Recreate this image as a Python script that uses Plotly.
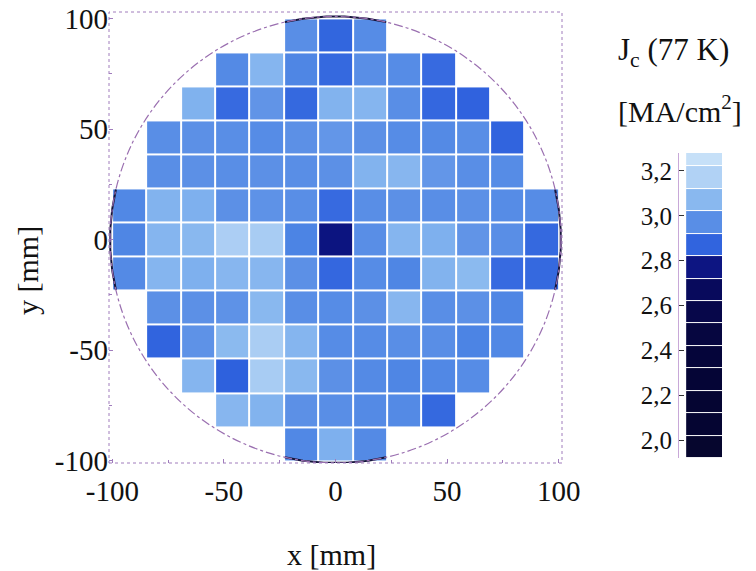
import numpy as np
import plotly.graph_objects as go

# ---------------- data ----------------
pitch = 15.4                      # cell size [mm]
x_centers = list(np.arange(-6, 7) * pitch)
y_centers = list(np.arange(-6, 7) * pitch)
N = None
# Jc(77 K) in MA/cm^2, rows listed from top (y=+6) to bottom (y=-6), columns x=-6..+6
jc_rows_top_to_bottom = [
    [N, N, N, N, N, 2.97, 2.88, 2.96, N, N, N, N, N],
    [N, N, N, 2.95, 3.05, 2.93, 2.90, 2.97, 2.96, 2.91, N, N, N],
    [N, N, 3.03, 2.91, 3.00, 2.90, 3.04, 3.05, 2.97, 2.89, 2.86, N, N],
    [N, 2.97, 2.98, 2.97, 2.96, 2.98, 3.01, 2.98, 2.96, 2.95, 2.97, 2.87, N],
    [N, 2.97, 2.98, 2.97, 2.98, 2.97, 2.98, 3.04, 3.06, 3.01, 2.97, 2.96, N],
    [2.94, 3.04, 3.02, 2.98, 2.99, 2.97, 2.91, 2.97, 2.98, 2.97, 2.98, 2.96, 2.96],
    [2.93, 3.05, 3.07, 3.14, 3.12, 2.92, 2.76, 2.97, 3.05, 3.02, 3.00, 2.97, 2.90],
    [2.95, 3.05, 3.02, 3.06, 3.06, 2.98, 2.89, 2.96, 2.93, 3.04, 3.08, 2.91, 2.90],
    [N, 2.98, 2.98, 2.99, 3.07, 2.97, 2.96, 2.98, 3.06, 2.97, 2.98, 2.93, N],
    [N, 2.87, 2.99, 3.08, 3.13, 3.05, 2.96, 2.96, 2.97, 2.97, 2.92, 2.94, N],
    [N, N, 3.05, 2.85, 3.12, 3.07, 2.98, 2.95, 2.93, 2.94, 2.96, N, N],
    [N, N, N, 3.06, 3.04, 2.98, 2.97, 2.95, 2.95, 2.90, N, N, N],
    [N, N, N, N, N, 2.94, 3.02, 2.95, N, N, N, N, N],
]
z = jc_rows_top_to_bottom[::-1]

axis_tickvals = [-100, -50, 0, 50, 100]
axis_ticktext = [str(v) for v in axis_tickvals]          # plain hyphen minus, as in the original
cb_tickvals = [2.0, 2.2, 2.4, 2.6, 2.8, 3.0, 3.2]
zmin, zmax, band = 1.92, 3.32, 0.1
wafer_radius = 101.0

# ---------------- colour scale (banded) ----------------
band_colors = [
    ("#06062e", "#06062e"), ("#050532", "#050532"), ("#050532", "#050532"),
    ("#050536", "#050536"), ("#05053a", "#05053a"), ("#060640", "#060640"),
    ("#07074a", "#07074a"), ("#080a5c", "#080a5c"), ("#0b1078", "#0e1a8c"),
    ("#2a5cdc", "#386ce0"), ("#4c84e4", "#6698e8"), ("#7eb0ee", "#94c0f0"),
    ("#a8ccf3", "#bad8f6"), ("#c2ddf7", "#cae2f8"),
]
nb = len(band_colors)
colorscale = []
for k, (c0, c1) in enumerate(band_colors):
    colorscale.append([k / nb, c0])
    colorscale.append([(k + 1) / nb, c1])

cb_levels = [zmin + band * (k + 0.5) for k in range(nb)]

fig = go.Figure()
fig.add_trace(go.Heatmap(
    x=x_centers, y=y_centers, z=z,
    colorscale=colorscale, zmin=zmin, zmax=zmax, showscale=False,
    xgap=2, ygap=2, hoverongaps=False,
))
# colour bar drawn as its own narrow heatmap
fig.add_trace(go.Heatmap(
    x=[0.7], y=cb_levels, z=[[v] for v in cb_levels],
    colorscale=colorscale, zmin=zmin, zmax=zmax, showscale=False,
    ygap=1, xaxis="x2", yaxis="y2",
))

# wafer outline: dark arcs where the circle passes the outer cells
for a0 in (90, 270, 0, 180):
    t = np.radians(np.linspace(a0 - 13, a0 + 13, 40))
    fig.add_trace(go.Scatter(x=wafer_radius * np.cos(t), y=wafer_radius * np.sin(t),
                             mode="lines", line=dict(color="#15153a", width=2),
                             hoverinfo="skip", showlegend=False))

serif = "Liberation Serif, Times New Roman, serif"
purple = "#a07cbc"

fig.add_shape(type="circle", xref="x", yref="y",
              x0=-wafer_radius, x1=wafer_radius, y0=-wafer_radius, y1=wafer_radius,
              line=dict(color="#9a6fb0", width=1.2, dash="dashdot"), layer="above")
fig.add_shape(type="rect", xref="x domain", yref="y domain", x0=0, x1=1, y0=0, y1=1,
              line=dict(color=purple, width=1, dash="dot"), layer="above")

W, H = 756, 571
ml, mr, mt, mb = 109, 34, 12, 108
pw, ph = W - ml - mr, H - mt - mb
px = lambda p: (p - ml) / pw
py = lambda p: (H - mb - p) / ph

fig.update_layout(
    width=W, height=H, margin=dict(l=ml, r=mr, t=mt, b=mb, autoexpand=False),
    paper_bgcolor="white", plot_bgcolor="white", showlegend=False,
    separators=", ",
    font=dict(family=serif, color="#111111", size=29),
    xaxis=dict(domain=[0, px(562)], range=[-101.5, 101.5],
               tickvals=axis_tickvals, ticktext=axis_ticktext,
               showgrid=False, zeroline=False, showline=False, automargin=False,
               ticks="inside", ticklen=4, tickcolor=purple, ticklabelstandoff=8,
               tickfont=dict(size=29, family=serif),
               minor=dict(ticks="inside", ticklen=3, tickcolor=purple, dtick=25)),
    yaxis=dict(domain=[0, 1], range=[-101, 103],
               tickvals=axis_tickvals, ticktext=axis_ticktext,
               showgrid=False, zeroline=False, showline=False, automargin=False,
               ticks="inside", ticklen=4, tickcolor=purple, ticklabelstandoff=0,
               tickfont=dict(size=29, family=serif),
               minor=dict(ticks="inside", ticklen=3, tickcolor=purple, dtick=25)),
    xaxis2=dict(domain=[px(679), px(722)], range=[0, 1.2], anchor="y2", automargin=False,
                showticklabels=False, showgrid=False, zeroline=False, ticks=""),
    yaxis2=dict(domain=[py(458), py(153)], range=[1.92, 3.28], anchor="x2", side="left",
                tickvals=cb_tickvals, tickformat=".1f", automargin=False,
                showgrid=False, zeroline=False, showline=True, linecolor="#c8a8d8",
                linewidth=1, ticks="inside", ticklen=5, tickcolor="#333",
                tickfont=dict(size=25, family=serif), ticklabelstandoff=1),
    annotations=[
        dict(text="x [mm]", x=px(331), y=py(554), xref="paper", yref="paper",
             showarrow=False, xanchor="center", yanchor="middle", font=dict(size=30)),
        dict(text="y [mm]", x=px(27), y=py(271), xref="paper", yref="paper",
             showarrow=False, xanchor="center", yanchor="middle", textangle=-90,
             font=dict(size=30)),
        dict(text="J<sub>c</sub> (77 K)", x=px(616), y=py(52), xref="paper", yref="paper",
             showarrow=False, xanchor="left", yanchor="middle", font=dict(size=31)),
        dict(text="[MA/cm<sup>2</sup>]", x=px(616), y=py(109), xref="paper", yref="paper",
             showarrow=False, xanchor="left", yanchor="middle", font=dict(size=30)),
    ],
)

fig.write_html("out.html", config={"displayModeBar": False},
               post_script="document.body.style.margin='0';document.body.style.overflow='hidden';")
